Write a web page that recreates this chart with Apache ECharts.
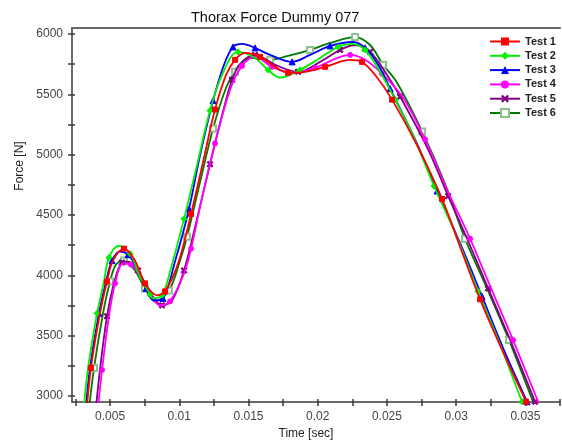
<!DOCTYPE html>
<html>
<head>
<meta charset="utf-8">
<script src="https://cdn.jsdelivr.net/npm/echarts@6/dist/echarts.min.js"></script>
<style>html,body{margin:0;padding:0;background:#fff}#c{width:562px;height:445px}</style>
</head>
<body>
<div id="c"></div>
<script>
// ---- data (time [s], force [N]) ----
const seriesNames = ['Test 1', 'Test 2', 'Test 3', 'Test 4', 'Test 5', 'Test 6'];

const test1 = [[0.00326,2821],[0.00362,3232],[0.00427,3685],[0.00478,3949],[0.00521,4122],[0.00601,4221],[0.00680,4122],[0.00752,3933],[0.00839,3834],[0.00897,3867],[0.00991,4097],[0.01085,4509],[0.01171,4937],[0.01258,5374],[0.01338,5662],[0.01403,5786],[0.01475,5843],[0.01583,5811],[0.01692,5728],[0.01786,5679],[0.01908,5687],[0.02053,5728],[0.02234,5786],[0.02320,5769],[0.02414,5662],[0.02537,5456],[0.02725,5061],[0.02898,4633],[0.03036,4213],[0.03173,3801],[0.03332,3381],[0.03505,2952],[0.03556,2821]];

const test2 = [[0.00304,2821],[0.00341,3232],[0.00406,3685],[0.00456,3949],[0.00492,4147],[0.00565,4245],[0.00644,4180],[0.00716,3990],[0.00789,3842],[0.00810,3809],[0.00875,3834],[0.00933,4031],[0.01034,4468],[0.01128,4913],[0.01222,5366],[0.01309,5662],[0.01424,5852],[0.01547,5802],[0.01641,5703],[0.01728,5638],[0.01872,5703],[0.02017,5802],[0.02147,5893],[0.02248,5918],[0.02342,5868],[0.02450,5687],[0.02559,5456],[0.02682,5176],[0.02840,4740],[0.03007,4311],[0.03158,3867],[0.03310,3447],[0.03476,2952],[0.03527,2821]];

const test3 = [[0.00319,2821],[0.00355,3232],[0.00420,3685],[0.00471,3949],[0.00514,4122],[0.00572,4196],[0.00630,4171],[0.00695,4056],[0.00760,3891],[0.00817,3792],[0.00882,3809],[0.00969,4114],[0.01070,4550],[0.01150,4995],[0.01244,5448],[0.01323,5745],[0.01388,5893],[0.01453,5918],[0.01547,5885],[0.01656,5827],[0.01815,5769],[0.01945,5827],[0.02089,5901],[0.02255,5934],[0.02342,5885],[0.02436,5745],[0.02523,5547],[0.02710,5110],[0.02862,4699],[0.03036,4246],[0.03187,3825],[0.03339,3397],[0.03512,2952],[0.03563,2821]];

const test4 = [[0.00406,2821],[0.00442,3216],[0.00492,3661],[0.00536,3933],[0.00593,4097],[0.00651,4089],[0.00716,3990],[0.00789,3842],[0.00861,3751],[0.00933,3784],[0.01034,4015],[0.01085,4221],[0.01164,4641],[0.01258,5094],[0.01367,5539],[0.01453,5736],[0.01547,5811],[0.01670,5728],[0.01815,5679],[0.01981,5720],[0.02125,5794],[0.02234,5827],[0.02342,5786],[0.02465,5670],[0.02616,5473],[0.02775,5127],[0.02949,4674],[0.03101,4303],[0.03252,3891],[0.03411,3463],[0.03592,2952],[0.03642,2821]];

const test5 = [[0.00391,2821],[0.00427,3216],[0.00478,3661],[0.00528,3933],[0.00586,4106],[0.00630,4114],[0.00702,4040],[0.00781,3875],[0.00875,3751],[0.00948,3792],[0.01034,4040],[0.01128,4468],[0.01222,4921],[0.01316,5358],[0.01381,5621],[0.01439,5753],[0.01547,5827],[0.01692,5745],[0.01858,5687],[0.02017,5769],[0.02161,5868],[0.02270,5909],[0.02378,5852],[0.02486,5687],[0.02595,5481],[0.02797,5045],[0.02942,4657],[0.03079,4303],[0.03231,3891],[0.03390,3463],[0.03570,2952],[0.03621,2821]];

const test6 = [[0.00341,2821],[0.00384,3232],[0.00449,3685],[0.00500,3949],[0.00543,4089],[0.00601,4122],[0.00680,4040],[0.00752,3891],[0.00825,3784],[0.00926,3875],[0.01005,4122],[0.01056,4320],[0.01150,4773],[0.01244,5217],[0.01338,5555],[0.01403,5687],[0.01511,5802],[0.01656,5786],[0.01786,5819],[0.01945,5868],[0.02089,5926],[0.02270,5975],[0.02378,5909],[0.02472,5745],[0.02573,5596],[0.02754,5193],[0.02920,4756],[0.03064,4303],[0.03223,3891],[0.03382,3463],[0.03556,2952],[0.03606,2821]];

// ---- tick values ----
const xLabelTicks = [0.005, 0.01, 0.015, 0.02, 0.025, 0.03, 0.035];
const xAllTicks = [0.0025, 0.005, 0.0075, 0.01, 0.0125, 0.015, 0.0175, 0.02, 0.0225, 0.025, 0.0275, 0.03, 0.0325, 0.035, 0.0375];
const yLabelTicks = [3000, 3500, 4000, 4500, 5000, 5500, 6000];
const yAllTicks = [3000, 3250, 3500, 3750, 4000, 4250, 4500, 4750, 5000, 5250, 5500, 5750, 6000];

const FONT = "'Liberation Sans', Arial, sans-serif";
const X_MIN = 0.00225, X_MAX = 0.0375, Y_MIN = 2950, Y_MAX = 6050;
const AXIS_COLOR = '#3a3a3a';

const chart = echarts.init(document.getElementById('c'), null, {renderer: 'canvas'});

function markerSize(offset, size) {
  return function (val, params) {
    return ((params && params.dataIndex !== undefined ? params.dataIndex : 0) + offset) % 2 === 0 ? size : 0;
  };
}
const crossPath = 'path://M2,0 L5,3 L8,0 L10,2 L7,5 L10,8 L8,10 L5,7 L2,10 L0,8 L3,5 L0,2 Z';

const styles = [
  {data: test1, color: '#ff0000', symbol: 'rect', size: 5, off: 1},
  {data: test2, color: '#00ee00', symbol: 'diamond', size: 6, off: 0},
  {data: test3, color: '#0000ff', symbol: 'triangle', size: 6, off: 0},
  {data: test4, color: '#ff00ff', symbol: 'circle', size: 5, off: 1},
  {data: test5, color: '#800080', symbol: crossPath, size: 6, off: 0},
  {data: test6, color: '#007a00', symbol: 'emptyRect', size: 6, off: 1, mark: '#8cc08c'}
];

const series = styles.map((s, i) => ({
  name: seriesNames[i],
  type: 'line',
  data: s.data,
  xAxisIndex: 0,
  yAxisIndex: 0,
  smooth: 0.35,
  symbol: s.symbol,
  symbolSize: markerSize(s.off, s.size),
  showSymbol: true,
  clip: true,
  color: s.mark || s.color,
  lineStyle: {color: s.color, width: 1.8},
  itemStyle: {color: s.mark || s.color, borderColor: s.mark || s.color},
  emphasis: {disabled: true},
  z: 10 - i
}));

const option = {
  animation: false,
  backgroundColor: '#ffffff',
  textStyle: {fontFamily: FONT},
  title: {
    text: 'Thorax Force Dummy 077',
    left: 186, top: 5,
    textStyle: {fontSize: 14.5, fontWeight: 'normal', color: '#111', fontFamily: FONT}
  },
  legend: {
    orient: 'vertical',
    left: 484, top: 31,
    itemWidth: 30, itemHeight: 10, itemGap: 3.3,
    textStyle: {fontSize: 11, color: '#222', fontFamily: FONT, fontWeight: 'bold'},
    data: seriesNames
  },
  grid: {left: 72, top: 28, width: 488, height: 376, containLabel: false},
  xAxis: [
    {
      type: 'value', min: X_MIN, max: X_MAX, position: 'bottom',
      name: 'Time [sec]', nameLocation: 'middle', nameGap: 26,
      nameTextStyle: {fontSize: 12, color: '#222', fontFamily: FONT, padding: [0, 20, 0, 0]},
      axisLine: {show: true, onZero: false, lineStyle: {color: AXIS_COLOR, width: 1.5}},
      axisTick: {show: true, length: 4, customValues: xAllTicks, lineStyle: {color: AXIS_COLOR, width: 1.5}},
      axisLabel: {customValues: xLabelTicks, margin: 9, fontSize: 12, color: '#444', fontFamily: FONT, formatter: v => String(v)},
      splitLine: {show: false}
    },
    {
      type: 'value', min: X_MIN, max: X_MAX, position: 'bottom',
      axisLine: {show: false, onZero: false},
      axisTick: {show: true, inside: true, length: 3, customValues: xAllTicks, lineStyle: {color: AXIS_COLOR, width: 1.5}},
      axisLabel: {show: false}, splitLine: {show: false}
    },
    {
      type: 'value', min: X_MIN, max: X_MAX, position: 'top',
      axisLine: {show: true, onZero: false, lineStyle: {color: '#666', width: 2}},
      axisTick: {show: false}, axisLabel: {show: false}, splitLine: {show: false}
    }
  ],
  yAxis: [
    {
      type: 'value', min: Y_MIN, max: Y_MAX, position: 'left',
      name: 'Force [N]', nameLocation: 'middle', nameGap: 42,
      nameTextStyle: {fontSize: 12, color: '#222', fontFamily: FONT, padding: [0, 0, 0, 98]},
      axisLine: {show: true, onZero: false, lineStyle: {color: AXIS_COLOR, width: 1.5}},
      axisTick: {show: true, length: 4, customValues: yAllTicks, lineStyle: {color: AXIS_COLOR, width: 1.5}},
      axisLabel: {customValues: yLabelTicks, margin: 9, fontSize: 12, color: '#444', fontFamily: FONT, formatter: v => String(v)},
      splitLine: {show: false}
    },
    {
      type: 'value', min: Y_MIN, max: Y_MAX, position: 'left',
      axisLine: {show: false, onZero: false},
      axisTick: {show: true, inside: true, length: 3, customValues: yAllTicks, lineStyle: {color: AXIS_COLOR, width: 1.5}},
      axisLabel: {show: false}, splitLine: {show: false}
    }
  ],
  series: series
};

chart.setOption(option);
</script>
</body>
</html>
